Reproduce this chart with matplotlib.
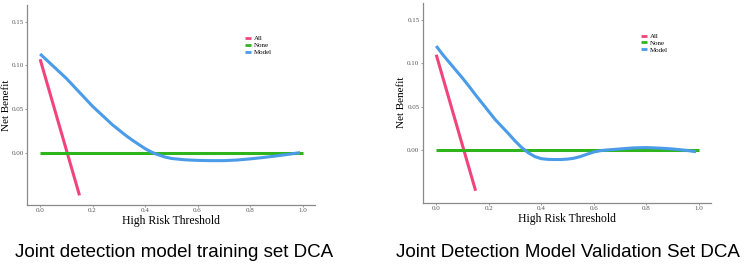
import numpy as np
import matplotlib
matplotlib.use("Agg")
import matplotlib.pyplot as plt

# threshold grids and net benefit values
all_x = [0.0, 0.15]
train_all = [0.107, -0.049]
valid_all = [0.110, -0.047]

none_x = [0.0, 1.0]
none_y = [0.0, 0.0]

train_x = [0.0, 0.025, 0.05, 0.075, 0.1, 0.125, 0.15, 0.175, 0.2, 0.225,
           0.25, 0.275, 0.3, 0.325, 0.35, 0.375, 0.4, 0.425, 0.45, 0.475,
           0.5, 0.55, 0.6, 0.65, 0.7, 0.75, 0.8, 0.85, 0.9, 0.95, 0.99]
train_model = [0.113, 0.106, 0.099, 0.092, 0.085, 0.077, 0.069, 0.061, 0.053,
               0.046, 0.039, 0.032, 0.026, 0.020, 0.0145, 0.0095, 0.0045,
               0.0005, -0.0025, -0.005, -0.0067, -0.0082, -0.0089, -0.0092,
               -0.0092, -0.0085, -0.0072, -0.0056, -0.0038, -0.0018, 0.0]

valid_x = [0.0, 0.025, 0.05, 0.075, 0.1, 0.125, 0.15, 0.175, 0.2, 0.225,
           0.25, 0.275, 0.3, 0.325, 0.35, 0.375, 0.4, 0.425, 0.45, 0.475,
           0.5, 0.525, 0.55, 0.575, 0.6, 0.625, 0.65, 0.7, 0.75, 0.8, 0.85,
           0.9, 0.95, 0.99]
valid_model = [0.120, 0.110, 0.101, 0.092, 0.083, 0.0735, 0.0635, 0.054,
               0.0445, 0.035, 0.027, 0.019, 0.0105, 0.003, -0.003, -0.0075,
               -0.0100, -0.0108, -0.011, -0.011, -0.0105, -0.0095, -0.0075,
               -0.0048, -0.0023, -0.0008, 0.0, 0.0012, 0.0024, 0.0028,
               0.0022, 0.0012, -0.0003, -0.002]

titles = ["Joint detection model training set DCA",
          "Joint Detection Model Validation Set DCA"]

pink = "#F0457B"
green = "#2DB51B"
blue = "#4A9BE8"
serif = "Liberation Serif"

fig = plt.figure(figsize=(7.44, 2.69), dpi=100)

boxes = [[0.0363, 0.238, 0.387, 0.743], [0.568, 0.2465, 0.388, 0.7435]]
xlims = [(-0.05, 1.047), (-0.052, 1.048)]
ylims = [(-0.06, 0.169), (-0.0608, 0.170)]
legpos = [(0.745, 0.865), (0.745, 0.865)]
ylab_x = [-0.071, -0.074]
title_x = [0.234, 0.764]

panels = [(train_all, train_x, train_model), (valid_all, valid_x, valid_model)]

for i, (a_y, mx, my) in enumerate(panels):
    ax = fig.add_axes(boxes[i])
    ax.plot(all_x, a_y, color=pink, lw=2.2, label="All", solid_capstyle="butt")
    ax.plot(none_x, none_y, color=green, lw=2.2, label="None", solid_capstyle="butt")
    ax.plot(mx, my, color=blue, lw=2.2, label="Model", solid_capstyle="butt",
            solid_joinstyle="round")
    ax.set_xlim(*xlims[i])
    ax.set_ylim(*ylims[i])
    ax.set_xticks([0, 0.2, 0.4, 0.6, 0.8, 1.0])
    ax.set_xticklabels(["0.0", "0.2", "0.4", "0.6", "0.8", "1.0"])
    ax.set_yticks([0, 0.05, 0.10, 0.15])
    ax.set_yticklabels(["0.00", "0.05", "0.10", "0.15"])
    for s in ["top", "right"]:
        ax.spines[s].set_visible(False)
    for s in ["left", "bottom"]:
        ax.spines[s].set_color("#8a8a8a")
        ax.spines[s].set_linewidth(0.9)
    ax.tick_params(length=1.5, width=0.6, color="#8a8a8a", labelsize=5,
                   labelcolor="#555555", pad=0.8)
    for lab in ax.get_xticklabels() + ax.get_yticklabels():
        lab.set_family(serif)
    ax.set_xlabel("High Risk Threshold", family=serif, fontsize=8.5, labelpad=1.5)
    ax.set_ylabel("Net Benefit", family=serif, fontsize=8, va="center")
    ax.yaxis.set_label_coords(ylab_x[i], 0.5)
    leg = ax.legend(loc="upper left", bbox_to_anchor=legpos[i], frameon=False,
                    prop={"family": serif, "size": 5}, handlelength=0.8,
                    handletextpad=0.5, labelspacing=0.15, borderpad=0)
    for h in leg.get_lines():
        h.set_linewidth(2)
    fig.text(title_x[i], 0.045, titles[i], ha="center", va="baseline",
             family="Liberation Sans", fontsize=13.5)

fig.savefig("out.png", dpi=100)
